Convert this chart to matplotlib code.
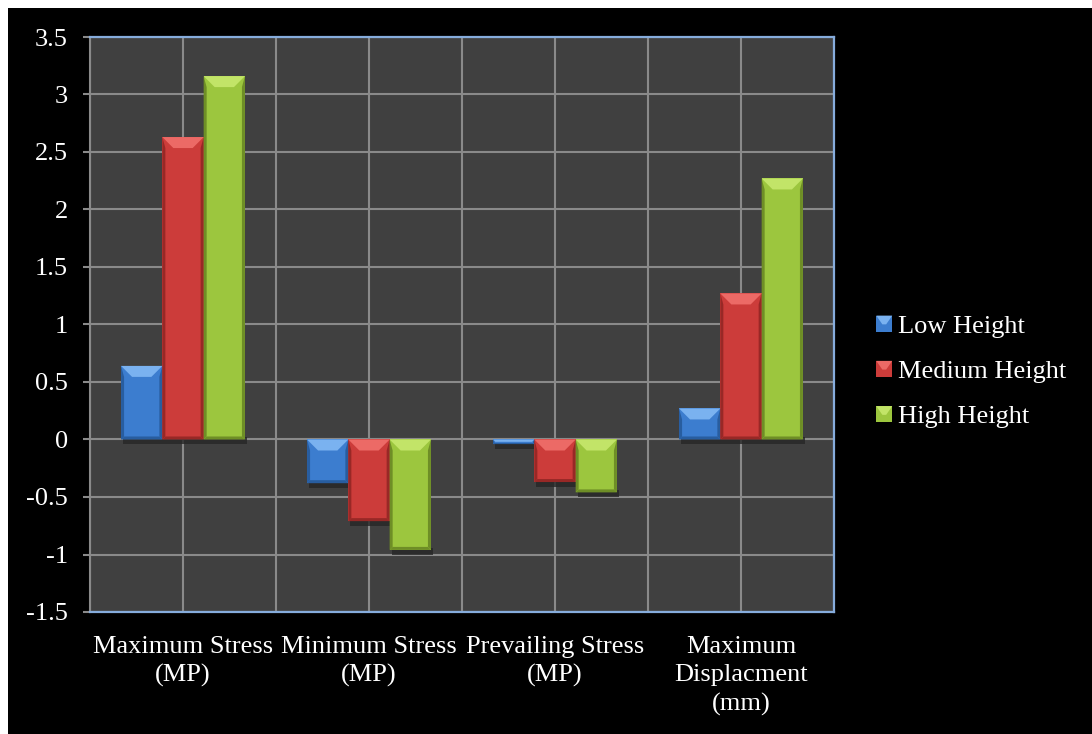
import matplotlib
matplotlib.use("Agg")
import matplotlib.pyplot as plt
from matplotlib.patches import Rectangle, Polygon
from matplotlib.legend_handler import HandlerBase
from matplotlib.ticker import MultipleLocator, FuncFormatter
import numpy as np

plt.rcParams['font.family'] = ['Liberation Serif', 'DejaVu Serif']

categories = ["Maximum Stress\n(MP)", "Minimum Stress\n(MP)",
              "Prevailing Stress\n(MP)", "Maximum\nDisplacment\n(mm)"]
series_names = ["Low Height", "Medium Height", "High Height"]
low_height = [0.64, -0.38, -0.04, 0.27]
medium_height = [2.63, -0.71, -0.37, 1.27]
high_height = [3.16, -0.96, -0.46, 2.27]
series_values = [low_height, medium_height, high_height]

# base, light bevel, dark edge
palette = [("#3c7dcf", "#7ab2f0", "#285d9f"),
           ("#cc3c3a", "#ec6a66", "#982826"),
           ("#9cc63e", "#c2e468", "#6e8e26")]

W, H, DPI = 1092, 734, 100
fig = plt.figure(figsize=(W / DPI, H / DPI), dpi=DPI, facecolor="white")
fig.add_artist(Rectangle((8 / W, 0), 1 - 8 / W, 1 - 8 / H, transform=fig.transFigure,
                         facecolor="black", edgecolor="none", zorder=-10))

ax = fig.add_axes([90 / W, 1 - 612 / H, (834 - 90) / W, (612 - 37) / H])
ax.set_facecolor("#404040")
ax.set_xlim(-0.5, len(categories) - 0.5)
ax.set_ylim(-1.5, 3.5)

# grid
grid_kw = dict(color="#8a8a8a", linewidth=1.5, zorder=0)
ax.yaxis.set_major_locator(MultipleLocator(0.5))
ax.yaxis.set_major_formatter(FuncFormatter(lambda v, p: f"{v:g}"))
ax.set_xticks(np.arange(len(categories)))
ax.set_xticks(np.arange(-0.5, len(categories), 1.0), minor=True)
ax.grid(True, which="major", axis="both", **grid_kw)
ax.grid(True, which="minor", axis="x", **grid_kw)
ax.set_axisbelow(True)

for s in ("top", "right", "bottom"):
    ax.spines[s].set_color("#86acdc")
    ax.spines[s].set_linewidth(1.6)
ax.spines["left"].set_color("#8a8a8a")
ax.spines["left"].set_linewidth(1.5)

ax.tick_params(axis="y", which="major", colors="#8a8a8a", length=5, width=1.5,
               direction="out", pad=11, labelsize=19, labelcolor="white")
ax.tick_params(axis="x", which="both", length=0, pad=17, labelsize=19, labelcolor="white")
ax.set_xticklabels(categories, linespacing=1.38, va="top")

bw = 0.222
offsets = [-bw, 0.0, bw]
x = np.arange(len(categories))

bar_groups = []
for vals, off, (base, light, dark) in zip(series_values, offsets, palette):
    bars = ax.bar(x + off, vals, width=bw, color=base, edgecolor="none", zorder=3)
    bar_groups.append((bars, base, light, dark))

# bevel shading drawn in pixel space, converted back to data coordinates
inv = ax.transData.inverted()


def add_poly(pts, color, z, alpha=1.0):
    data_pts = inv.transform(np.array(pts))
    ax.add_patch(Polygon(data_pts, closed=True, facecolor=color, edgecolor="none",
                         zorder=z, alpha=alpha))


for bars, base, light, dark in bar_groups:
    for rect in bars:
        x0, y0 = rect.get_x(), rect.get_y()
        x1, y1 = x0 + rect.get_width(), y0 + rect.get_height()
        (L, B), (R, T) = ax.transData.transform([(x0, min(y0, y1)), (x1, max(y0, y1))])
        h = T - B
        dt = min(11.0, h * 0.5)
        ds = min(3.0, h * 0.3)
        db = min(3.0, h * 0.25)
        # soft drop shadow below the bar
        add_poly([(L + 2, B - 5), (R + 2, B - 5), (R + 2, B + 2), (L + 2, B + 2)], "#262626", 2.5, 0.8)
        # side and bottom edges
        add_poly([(L, B), (L + ds, B + db), (L + ds, T - dt), (L, T)], dark, 4)
        add_poly([(R, B), (R - ds, B + db), (R - ds, T - dt), (R, T)], dark, 4)
        add_poly([(L, B), (R, B), (R - ds, B + db), (L + ds, B + db)], dark, 4)
        # lit top bevel
        ins = min(dt, (R - L) * 0.45)
        add_poly([(L, T), (R, T), (R - ins, T - dt), (L + ins, T - dt)], light, 5)


class BevelSquare(HandlerBase):
    def create_artists(self, legend, orig_handle, xdescent, ydescent, width, height,
                       fontsize, trans):
        base, light = orig_handle
        s = height
        x0 = -xdescent + (width - s) / 2
        y0 = -ydescent
        body = Rectangle((x0, y0), s, s, facecolor=base, edgecolor="none", transform=trans)
        top = Polygon([(x0, y0 + s), (x0 + s, y0 + s), (x0 + s * 0.62, y0 + s * 0.45),
                       (x0 + s * 0.38, y0 + s * 0.45)], closed=True,
                      facecolor=light, edgecolor="none", transform=trans)
        return [body, top]


handles = [(b, l) for b, l, d in palette]
leg = fig.legend(handles, series_names, handler_map={tuple: BevelSquare()},
                 loc="center left", bbox_to_anchor=(877 / W, 1 - 372 / H),
                 frameon=False, fontsize=19, labelcolor="white",
                 handlelength=0.55, handleheight=0.55, handletextpad=0.25,
                 labelspacing=0.87, borderpad=0.0, borderaxespad=0.0)

fig.savefig("out.png", dpi=DPI, facecolor=fig.get_facecolor())
